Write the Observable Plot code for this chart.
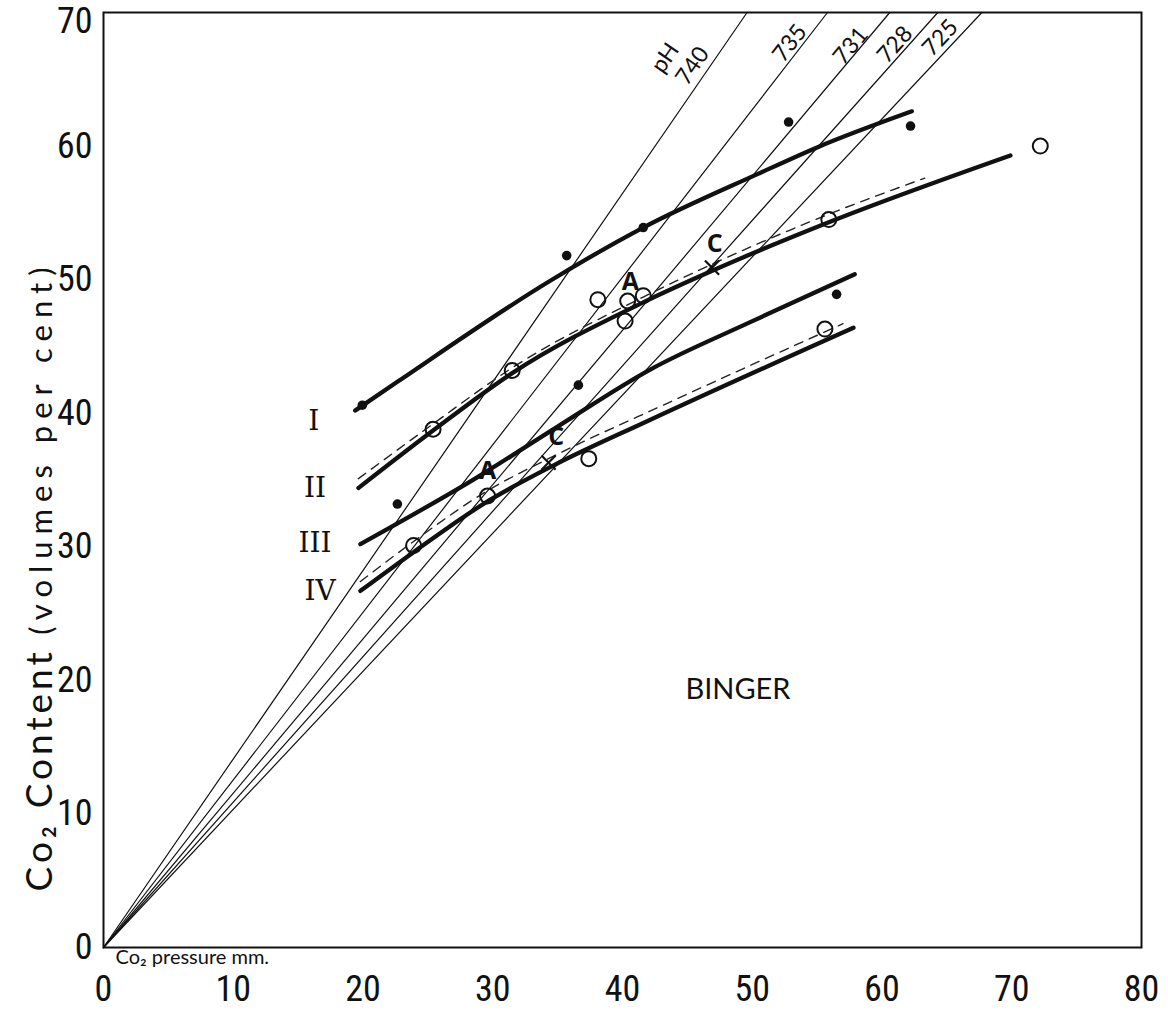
<!DOCTYPE html>
<html>
<head>
<meta charset="utf-8">
<script src="https://cdn.jsdelivr.net/npm/d3@7"></script>
<script src="https://cdn.jsdelivr.net/npm/@observablehq/plot@0.6"></script>
<style>
  html, body { margin: 0; padding: 0; background: #fff; }
</style>
</head>
<body>
<div id="chart"></div>
<script>
// ---- axis ticks ----
const xTicks = [0, 10, 20, 30, 40, 50, 60, 70, 80];
const yTicks = [0, 10, 20, 30, 40, 50, 60];
const yTopTick = [70];

// ---- pH isopleths (straight lines through origin; x where each reaches y = 70) ----
const phNames = ["740", "735", "731", "728", "725"];
const phTopX = [49.6, 55.8, 60.6, 64.3, 67.7];
const phLabelX = [45.4, 52.9, 57.6, 61.0, 64.5];
const phLabelY = [66.0, 67.7, 67.5, 67.6, 68.1];
const phWord = {x: 43.3, y: 66.6, text: "pH"};

// ---- curves (solid) ----
const curveIx = [19.4, 22.65, 34.4, 41.6, 50.4, 55.0, 62.3];
const curveIy = [40.2, 42.35, 49.9, 53.9, 57.9, 59.9, 62.6];
const curveIIx = [19.65, 25.4, 31.5, 41.6, 47.0, 55.9, 69.9];
const curveIIy = [34.4, 38.7, 43.0, 48.3, 50.7, 54.3, 59.3];
const curveIIIx = [19.8, 28.8, 35.0, 42.1, 49.8, 57.9];
const curveIIIy = [30.2, 35.2, 39.0, 43.25, 46.8, 50.4];
const curveIVx = [19.8, 23.9, 29.6, 34.7, 41.9, 57.8];
const curveIVy = [26.7, 29.6, 33.4, 36.1, 39.4, 46.4];

// ---- dashed companions ----
const dashIIx = [19.65, 25.4, 31.5, 41.6, 47.0, 55.9, 63.3];
const dashIIy = [35.1, 39.2, 43.4, 48.7, 51.2, 54.9, 57.6];
const dashIVx = [19.8, 23.9, 29.6, 34.3, 43.8, 57.0];
const dashIVy = [27.4, 30.4, 34.2, 36.6, 40.9, 46.7];

// ---- observations ----
const filledX = [19.95, 22.65, 35.7, 41.6, 36.6, 52.8, 62.2, 56.5];
const filledY = [40.6, 33.2, 51.8, 53.9, 42.1, 61.8, 61.5, 48.9];
const openX = [25.4, 31.5, 38.1, 40.4, 41.6, 40.2, 55.9, 72.2, 23.9, 29.6, 37.4, 55.6];
const openY = [38.8, 43.2, 48.5, 48.4, 48.8, 46.9, 54.5, 60.0, 30.1, 33.8, 36.6, 46.3];
const crossX = [34.3, 46.9];
const crossY = [36.3, 50.9];

// ---- annotations ----
const letterText = ["A", "A", "C", "C"];
const letterX = [40.6, 29.6, 34.9, 47.1];
const letterY = [49.8, 35.7, 38.2, 52.7];
const romanText = ["I", "II", "III", "IV"];
const romanX = [16.2, 16.3, 16.3, 16.7];
const romanY = [39.4, 34.4, 30.3, 26.7];
const bingerText = "BINGER";
const bingerPos = {x: 48.9, y: 19.3};
const xLabel = "Co₂ pressure mm.";
const yLabel = "Co₂ Content (volumes per cent)";

// ---- build tables ----
const toPts = (xs, ys) => xs.map((x, i) => ({x, y: ys[i]}));
const phLines = phNames.flatMap((n, i) => [{pH: n, x: 0, y: 0}, {pH: n, x: phTopX[i], y: 70}]);

const W = 1168, H = 1013;
const mL = 103, mR = 27, mT = 12, mB = 66;
const pxPerX = (W - mL - mR) / 80, pxPerY = (H - mT - mB) / 70;
const phLabels = phNames.map((n, i) => ({
  text: n, x: phLabelX[i], y: phLabelY[i],
  rot: -Math.atan2(70 * pxPerY, phTopX[i] * pxPerX) * 180 / Math.PI
}));
phLabels.push({text: phWord.text, x: phWord.x, y: phWord.y, rot: phLabels[0].rot});

const numFont = "'Liberation Sans Narrow', 'Roboto Condensed', 'Liberation Sans', sans-serif";
const handFont = "Lato, 'Open Sans', sans-serif";

const curveOpts = {x: "x", y: "y", stroke: "#111", strokeWidth: 4.3, curve: "monotone-x", strokeLinecap: "round"};
const dashOpts = {x: "x", y: "y", stroke: "#222", strokeWidth: 1.4, curve: "monotone-x", strokeDasharray: "9,7"};

const plot = Plot.plot({
  width: W, height: H,
  marginLeft: mL, marginRight: mR, marginTop: mT, marginBottom: mB,
  x: {domain: [0, 80], label: null},
  y: {domain: [0, 70], label: null},
  style: {fontFamily: numFont, fontSize: "36px", color: "#111", background: "#fff"},
  marks: [
    Plot.line(phLines, {x: "x", y: "y", z: "pH", stroke: "#111", strokeWidth: 1.2}),
    Plot.line(toPts(curveIx, curveIy), curveOpts),
    Plot.line(toPts(curveIIx, curveIIy), curveOpts),
    Plot.line(toPts(curveIIIx, curveIIIy), curveOpts),
    Plot.line(toPts(curveIVx, curveIVy), curveOpts),
    Plot.line(toPts(dashIIx, dashIIy), dashOpts),
    Plot.line(toPts(dashIVx, dashIVy), dashOpts),
    Plot.dot(toPts(filledX, filledY), {x: "x", y: "y", r: 4.8, fill: "#111", stroke: "none"}),
    Plot.dot(toPts(openX, openY), {x: "x", y: "y", r: 7.5, fill: "none", stroke: "#111", strokeWidth: 2}),
    Plot.dot(toPts(crossX, crossY), {x: "x", y: "y", r: 6.5, symbol: "times", stroke: "#111", strokeWidth: 2.2}),
    Plot.text(phLabels, {x: "x", y: "y", text: "text", rotate: "rot", fontSize: 23, fontFamily: handFont, fill: "#111"}),
    Plot.text(letterText.map((t, i) => ({t, x: letterX[i], y: letterY[i]})), {x: "x", y: "y", text: "t", fontSize: 25, fontWeight: "bold", fontFamily: "'Open Sans', sans-serif", fill: "#111"}),
    Plot.text(romanText.map((t, i) => ({t, x: romanX[i], y: romanY[i]})), {x: "x", y: "y", text: "t", fontSize: 28, fontFamily: "'DejaVu Serif', 'Liberation Serif', serif", fill: "#111"}),
    Plot.text([bingerPos], {x: "x", y: "y", text: () => bingerText, fontSize: 29, fontFamily: handFont, fill: "#111", letterSpacing: "2px"}),
    Plot.frame({stroke: "#111", strokeWidth: 2}),
    Plot.axisX({ticks: xTicks, tickSize: 0, tickPadding: 28, tickFormat: d => String(d), label: null}),
    Plot.axisY({ticks: yTicks, tickSize: 0, tickPadding: 11, tickFormat: d => String(d), label: null}),
    Plot.axisY({ticks: yTopTick, tickSize: 0, tickPadding: 11, tickFormat: d => String(d), label: null, dy: 9}),
    Plot.text([xLabel], {frameAnchor: "bottom-left", text: d => d, dx: 12, dy: 10, textAnchor: "start", lineAnchor: "middle", fontSize: 20, fontFamily: handFont, fill: "#111"}),
    Plot.text([yLabel], {frameAnchor: "left", text: d => d, dx: -63, dy: 96, rotate: -90, textAnchor: "middle", lineAnchor: "middle", fontSize: 36, fontFamily: handFont, fill: "#111"})
  ]
});

// style the axis label parts (keep as real text)
d3.select(plot).selectAll("text").filter(function() { return this.textContent === yLabel; })
  .each(function() {
    const t = d3.select(this);
    t.text(null);
    t.append("tspan").attr("font-size", 37).attr("letter-spacing", "4px").text("Co₂ Content ");
    t.append("tspan").attr("font-size", 31).attr("letter-spacing", "7px").text("(volumes per cent)");
  });

document.getElementById("chart").appendChild(plot);
</script>
</body>
</html>
